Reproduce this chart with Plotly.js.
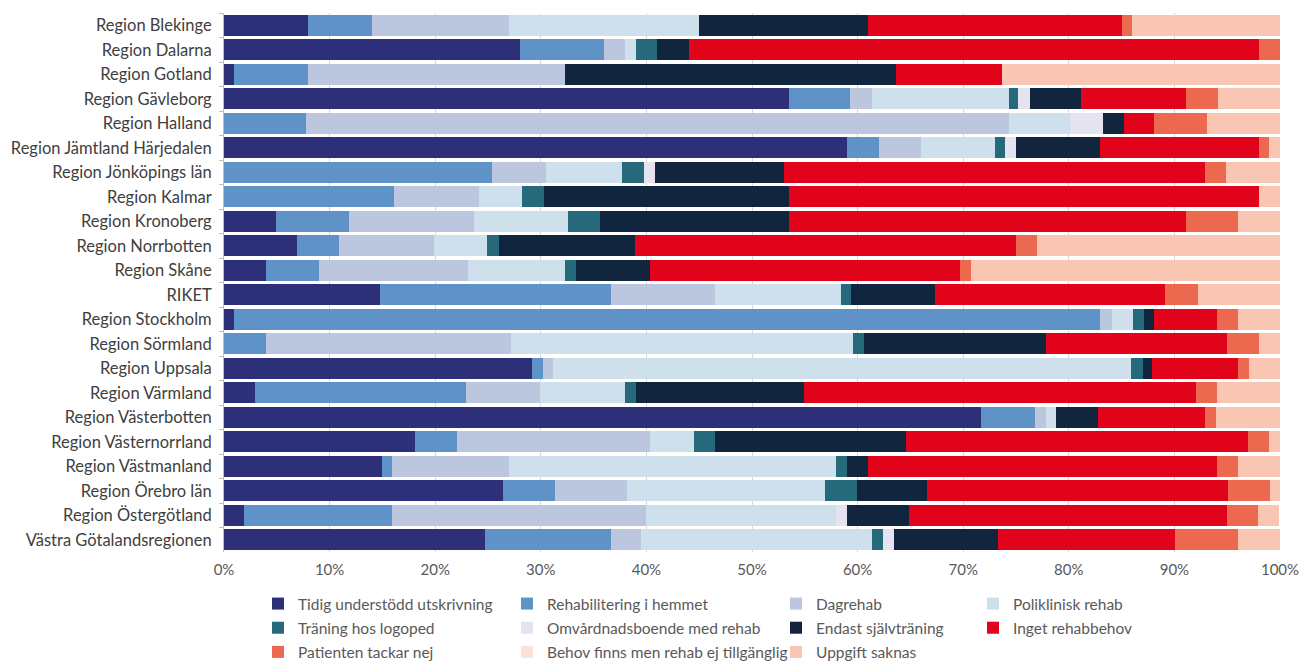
<!DOCTYPE html>
<html>
<head>
<meta charset="utf-8">
<script src="https://cdn.plot.ly/plotly-3.0.1.min.js"></script>
<style>html,body{margin:0;padding:0;background:#fff;}#chart{width:1309px;height:662px;}</style>
</head>
<body>
<div id="chart"></div>
<script>
const regions = ["Region Blekinge","Region Dalarna","Region Gotland","Region Gävleborg","Region Halland","Region Jämtland Härjedalen","Region Jönköpings län","Region Kalmar","Region Kronoberg","Region Norrbotten","Region Skåne","RIKET","Region Stockholm","Region Sörmland","Region Uppsala","Region Värmland","Region Västerbotten","Region Västernorrland","Region Västmanland","Region Örebro län","Region Östergötland","Västra Götalandsregionen"];

const seriesNames = ["Tidig understödd utskrivning","Rehabilitering i hemmet","Dagrehab","Poliklinisk rehab","Träning hos logoped","Omvårdnadsboende med rehab","Endast självträning","Inget rehabbehov","Patienten tackar nej","Behov finns men rehab ej tillgänglig","Uppgift saknas"];

const tidig   = [8, 28, 0.9, 53.5, 0, 59, 0, 0, 4.9, 6.9, 3.95, 14.8, 0.9, 0, 29.2, 2.9, 71.7, 18.1, 14.95, 26.4, 1.9, 24.7];
const hemmet  = [6, 8, 7.1, 5.8, 7.8, 3, 25.4, 16.1, 6.9, 4.0, 5.05, 21.8, 82.1, 3.95, 1.0, 20.0, 5.1, 4.0, 1.0, 4.9, 14.05, 11.9];
const dagrehab= [13, 2, 24.3, 2.1, 66.5, 4, 5.1, 8.0, 11.9, 9.0, 14.1, 9.9, 1.05, 23.25, 1.0, 7.0, 1.0, 18.25, 11.0, 6.9, 24.0, 2.9];
const polik   = [18, 1, 0, 12.9, 5.85, 7, 7.2, 4.1, 8.9, 5.0, 9.2, 11.9, 2.0, 32.4, 54.7, 8.1, 1.0, 4.15, 31.05, 18.7, 18.0, 21.9];
const logoped = [0, 2, 0, 0.9, 0, 1, 2.05, 2.1, 3.0, 1.1, 1.0, 1.0, 1.05, 1.05, 1.1, 1.0, 0, 2.0, 1.0, 3.0, 0, 1.0];
const omvard  = [0, 0, 0, 1.1, 3.05, 1, 1.05, 0, 0, 0, 0, 0, 0, 0, 0, 0, 0, 0, 0, 0, 1.0, 1.0];
const endast  = [16, 3, 31.3, 4.9, 2.0, 8, 12.2, 23.2, 17.9, 12.9, 7.0, 7.9, 0.95, 17.15, 0.9, 15.95, 4.0, 18.1, 1.97, 6.7, 5.95, 9.85];
const inget   = [24, 54, 10.1, 9.9, 2.9, 15, 39.9, 44.5, 37.6, 36.1, 29.4, 21.8, 6.0, 17.2, 8.15, 37.05, 10.1, 32.4, 33.03, 28.5, 30.05, 16.85];
const tackar  = [1, 2, 0, 3.0, 5.0, 1, 2.0, 0, 4.95, 2.0, 1.0, 3.1, 2.0, 3.0, 1.0, 2.05, 1.0, 2.0, 2.0, 3.95, 3.0, 5.95];
const behov   = [0, 0, 0, 0, 0, 0, 0, 0, 0, 0, 0, 0, 0, 0, 0, 0, 0, 0, 0, 0, 0, 0];
const saknas  = [14, 0, 26.3, 5.9, 6.9, 1, 5.1, 2.0, 3.95, 23.0, 29.3, 7.8, 4.0, 2.0, 2.95, 5.95, 6.1, 1.0, 4.0, 0.95, 2.0, 3.95];

const allValues = [tidig, hemmet, dagrehab, polik, logoped, omvard, endast, inget, tackar, behov, saknas];
const colors = ["#2D2F78","#5F93C8","#BCC6DF","#CDE0EB","#26697A","#E6E3F0","#12253F","#E0031A","#EC6950","#FCE2D5","#F8C6B2"];
const legendIds = ["legend","legend2","legend3","legend4","legend","legend2","legend3","legend4","legend","legend2","legend3"];

const traces = allValues.map((vals, i) => ({
  type: "bar",
  orientation: "h",
  name: seriesNames[i],
  x: vals,
  y: regions,
  marker: {color: colors[i], line: {width: 0}},
  legend: legendIds[i],
  legendgroup: "g" + i,
  hovertemplate: "%{y}: %{x}%<extra>" + seriesNames[i] + "</extra>"
}));

const legFont = {family: "Lato, 'Open Sans', sans-serif", size: 15.5, color: "#595959"};
function leg(xpx) {
  return {x: (xpx - 224) / 1056, y: -(587 - 552) / 539,
          xanchor: "left", yanchor: "top", orientation: "v",
          font: legFont, bgcolor: "rgba(0,0,0,0)", tracegroupgap: 1, itemwidth: 30};
}

const layout = {
  width: 1309, height: 662,
  margin: {l: 224, r: 29, t: 13, b: 110, autoexpand: false},
  barmode: "stack",
  bargap: 0.14,
  paper_bgcolor: "#fff",
  plot_bgcolor: "#fff",
  font: {family: "Lato, 'Open Sans', sans-serif", size: 16, color: "#404040"},
  xaxis: {
    range: [0, 100], dtick: 10, ticksuffix: "%",
    showgrid: true, gridcolor: "#D9D9D9", gridwidth: 1,
    zeroline: false, showline: false,
    ticks: "outside", ticklen: 4, tickcolor: "rgba(0,0,0,0)",
    tickfont: {size: 15, color: "#595959"}
  },
  yaxis: {
    autorange: "reversed", type: "category",
    showline: true, linecolor: "#BFBFBF", linewidth: 1,
    ticks: "outside", ticklen: 4, tickcolor: "#BFBFBF", tickson: "boundaries",
    showgrid: false, tickfont: {size: 16.5, color: "#404040"}, ticklabelstandoff: 8
  },
  showlegend: true,
  legend: leg(258),
  legend2: leg(507),
  legend3: leg(776),
  legend4: leg(973)
};

Plotly.newPlot("chart", traces, layout, {displayModeBar: false, staticPlot: true});
</script>
</body>
</html>
